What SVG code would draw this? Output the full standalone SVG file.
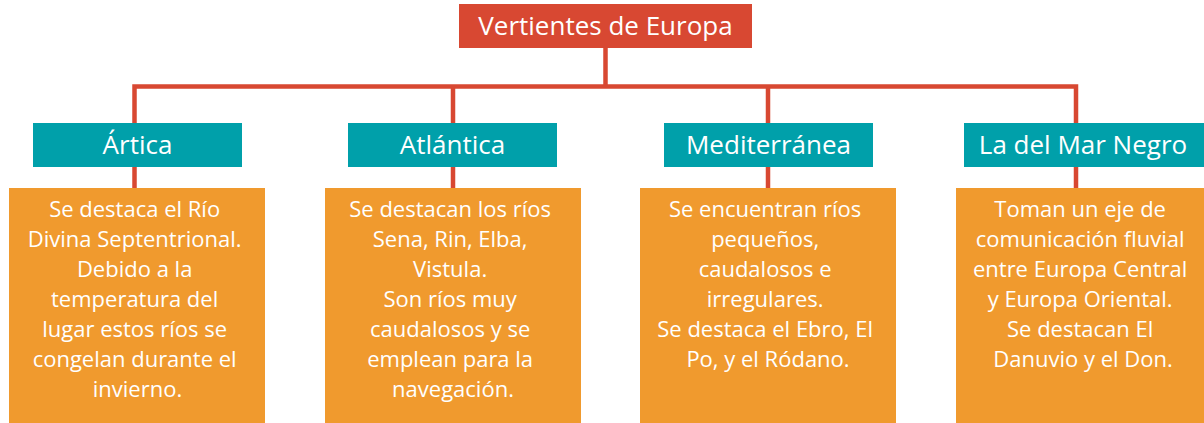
<svg xmlns="http://www.w3.org/2000/svg" width="1204" height="423" viewBox="0 0 1204 423">
<style>
.title{fill:#D84832}
.head{fill:#00A0AA}
.body{fill:#F09A2E}
.t{font-family:"Open Sans","Noto Sans",sans-serif;fill:#FFFFFF;text-anchor:middle}
.h{font-size:26px}
.b{font-size:22px}
.conn{fill:none;stroke:#D84832;stroke-width:4.5;stroke-linejoin:miter}
</style>
<rect width="1204" height="423" fill="#FFFFFF"/>
<g id="connectors">
<path class="conn" d="M605.5 48 V86.5 M134.5 188 V86.5 H1076 V188 M453 86.5 V188 M768 86.5 V188"/>
</g>
<g id="root">
<rect class="title" x="459" y="4" width="293" height="44"/>
<text class="t h" x="605.5" y="35">Vertientes de Europa</text>
</g>
<g id="artica">
<rect class="head" x="33" y="123" width="209" height="44"/>
<text class="t h" x="137.5" y="154">Ártica</text>
</g>
<g id="artica-desc">
<rect class="body" x="9" y="188" width="256" height="235"/>
<text class="t b">
<tspan x="137.5" y="217">Se destaca el Río</tspan>
<tspan x="137.5" y="247">Divina Septentrional.</tspan>
<tspan x="137.5" y="277">Debido a la</tspan>
<tspan x="137.5" y="307">temperatura del</tspan>
<tspan x="137.5" y="337">lugar estos ríos se</tspan>
<tspan x="137.5" y="367">congelan durante el</tspan>
<tspan x="137.5" y="397">invierno.</tspan>
</text>
</g>
<g id="atlantica">
<rect class="head" x="348" y="123" width="209" height="44"/>
<text class="t h" x="452.5" y="154">Atlántica</text>
</g>
<g id="atlantica-desc">
<rect class="body" x="325" y="188" width="256" height="235"/>
<text class="t b">
<tspan x="453" y="217">Se destacan los ríos</tspan>
<tspan x="453" y="247">Sena, Rin, Elba,</tspan>
<tspan x="453" y="277">Vistula.</tspan>
<tspan x="453" y="307">Son ríos muy</tspan>
<tspan x="453" y="337">caudalosos y se</tspan>
<tspan x="453" y="367">emplean para la</tspan>
<tspan x="453" y="397">navegación.</tspan>
</text>
</g>
<g id="mediterranea">
<rect class="head" x="664" y="123" width="209" height="44"/>
<text class="t h" x="768.5" y="154">Mediterránea</text>
</g>
<g id="mediterranea-desc">
<rect class="body" x="640" y="188" width="256" height="235"/>
<text class="t b">
<tspan x="768" y="217">Se encuentran ríos</tspan>
<tspan x="768" y="247">pequeños,</tspan>
<tspan x="768" y="277">caudalosos e</tspan>
<tspan x="768" y="307">irregulares.</tspan>
<tspan x="768" y="337">Se destaca el Ebro, El</tspan>
<tspan x="768" y="367">Po, y el Ródano.</tspan>
</text>
</g>
<g id="marnegro">
<rect class="head" x="964" y="123" width="240" height="44"/>
<text class="t h" x="1083" y="154">La del Mar Negro</text>
</g>
<g id="marnegro-desc">
<rect class="body" x="956" y="188" width="248" height="235"/>
<text class="t b">
<tspan x="1083" y="217">Toman un eje de</tspan>
<tspan x="1083" y="247">comunicación fluvial</tspan>
<tspan x="1083" y="277">entre Europa Central</tspan>
<tspan x="1083" y="307">y Europa Oriental.</tspan>
<tspan x="1083" y="337">Se destacan El</tspan>
<tspan x="1083" y="367">Danuvio y el Don.</tspan>
</text>
</g>
</svg>
